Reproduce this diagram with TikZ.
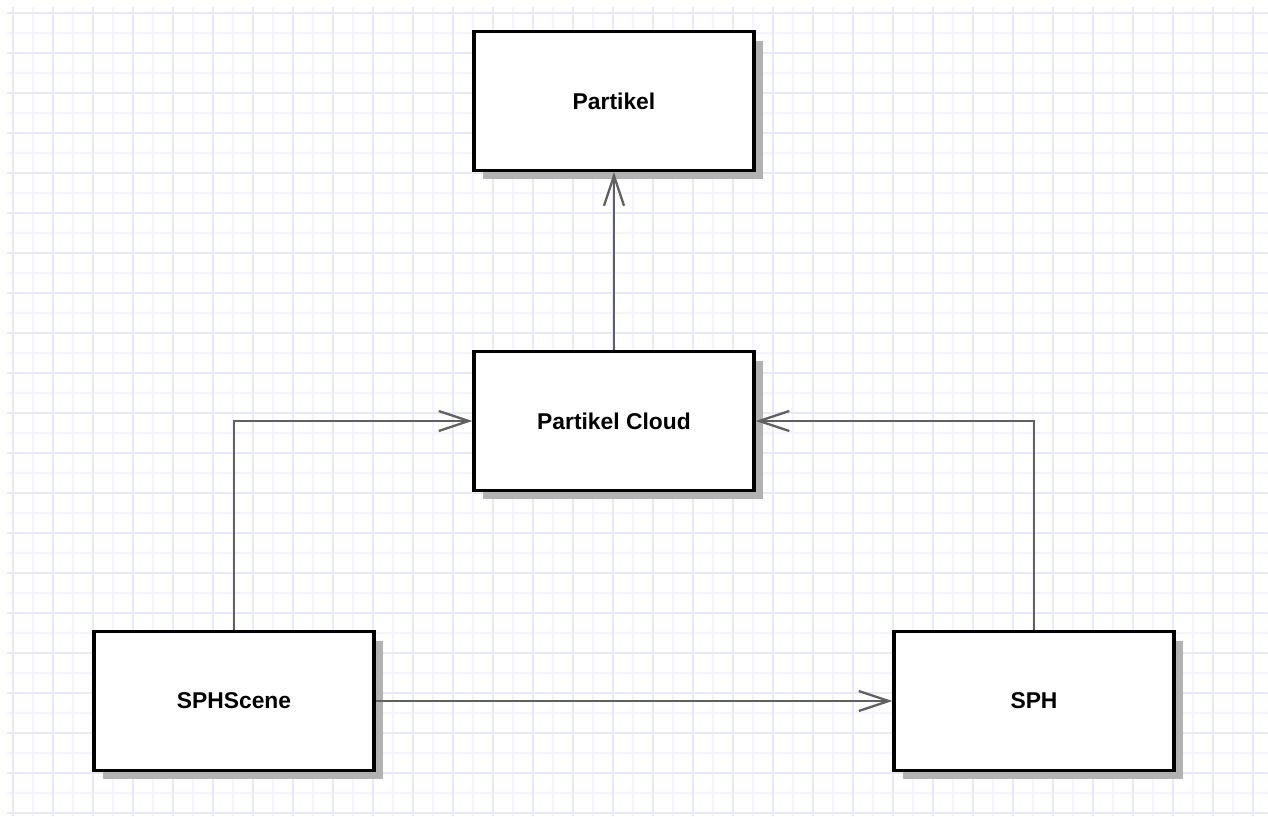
\documentclass[tikz,border=0pt]{standalone}
\usepackage{fontspec}
\setmainfont{Liberation Sans}
\usepackage{tikz}
\usetikzlibrary{arrows.meta,shadows,positioning}
\definecolor{gridmajor}{RGB}{232,232,252}
\definecolor{gridminor}{RGB}{244,244,254}
\definecolor{linkgray}{RGB}{96,96,96}

\begin{document}
\begin{tikzpicture}[x=0.02cm,y=-0.02cm,
    >={Straight Barb[length=0.6cm,width=0.4cm]},
    klasse/.style={draw=black,line width=1.9pt,fill=white,minimum width=5.6cm,minimum height=2.78cm,
      font=\fontsize{13}{15}\selectfont\bfseries,
      drop shadow={shadow xshift=0.18cm,shadow yshift=-0.18cm,fill=black!30,opacity=1}},
    link/.style={draw=linkgray,line width=1.3pt,->}]
    \useasboundingbox (0,0) rectangle (1268,816);
    % grid paper
    \foreach \gx in {33,73,...,1253} \draw[gridminor,line width=1pt] (\gx,7) -- (\gx,816);
    \foreach \gy in {33,73,...,813} \draw[gridminor,line width=1pt] (7,\gy) -- (1268,\gy);
    \foreach \gx in {13,53,...,1253} \draw[gridmajor,line width=1pt] (\gx,7) -- (\gx,816);
    \foreach \gy in {13,53,...,813} \draw[gridmajor,line width=1pt] (7,\gy) -- (1268,\gy);
    % classes
    \node[klasse] (part) at (614,101) {Partikel};
    \node[klasse] (cloud) at (614,421) {Partikel Cloud};
    \node[klasse] (scene) at (234,701) {SPHScene};
    \node[klasse] (sph) at (1034,701) {SPH};
    % associations
    \draw[link] (cloud.north) -- (part.south);
    \draw[link] (scene.north) |- (cloud.west);
    \draw[link] (sph.north) |- (cloud.east);
    \draw[link] (scene.east) -- (sph.west);
\end{tikzpicture}
\end{document}
